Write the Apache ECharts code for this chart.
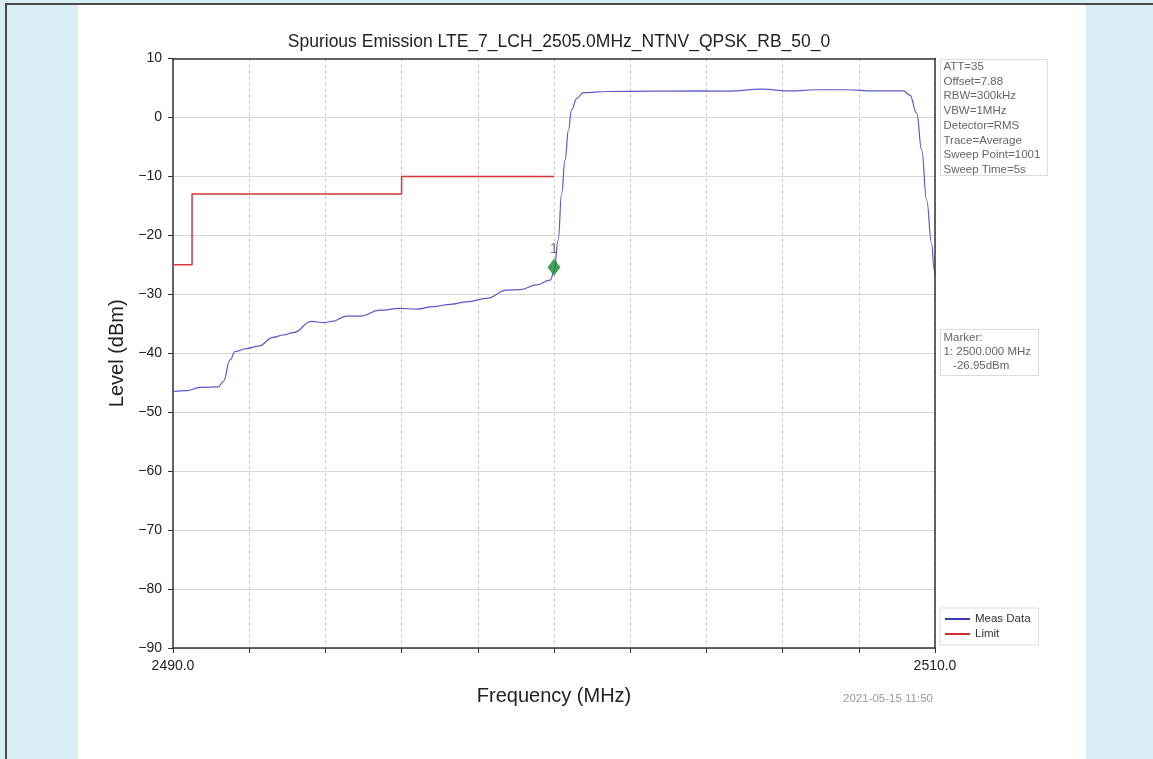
<!DOCTYPE html>
<html>
<head>
<meta charset="utf-8">
<title>Spurious Emission LTE_7_LCH_2505.0MHz</title>
<script src="https://cdn.jsdelivr.net/npm/echarts@6/dist/echarts.min.js"></script>
<style>
    html, body { margin: 0; padding: 0; width: 1153px; height: 759px; overflow: hidden; }
    #page { position: absolute; left: 0; top: 0; width: 1153px; height: 759px; background: #d9edf4; }
    #lineLeft { position: absolute; left: 5px; top: 3px; width: 2px; height: 756px; background: #4a4a4a; }
    #lineTop { position: absolute; left: 5px; top: 3px; width: 1148px; height: 2px; background: #4a4a4a; }
    #paper { position: absolute; left: 78px; top: 5px; width: 1008px; height: 754px; background: #fff; }
    #canvas { position: absolute; left: 0; top: 0; width: 1153px; height: 759px; }
</style>
</head>
<body>
<div id="page"></div>
<div id="paper"></div>
<div id="lineLeft"></div>
<div id="lineTop"></div>
<div id="canvas"></div>
<script type="text/javascript">
    // 数据
    var measFreq = [2490.0, 2490.36, 2490.71, 2491.19, 2491.32, 2491.5, 2491.63, 2491.93, 2492.24, 2492.63,
        2492.9, 2493.16, 2493.64, 2493.95, 2494.17, 2494.56, 2494.91, 2495.43, 2495.96, 2496.4,
        2496.83, 2497.27, 2497.71, 2498.23, 2498.76, 2499.11, 2499.55, 2499.9, 2500.0, 2500.11,
        2500.2, 2500.29, 2500.38, 2500.46, 2500.6, 2500.77, 2501.38, 2502.5, 2503.83, 2504.6,
        2505.45, 2506.2, 2506.9, 2507.68, 2508.4, 2509.17, 2509.34, 2509.52, 2509.65, 2509.78,
        2509.91, 2509.98, 2510.0];
    var measLevel = [-46.5, -46.35, -45.8, -45.7, -44.8, -41.1, -39.7, -39.2, -38.8, -37.3,
        -36.9, -36.5, -34.6, -34.8, -34.6, -33.7, -33.7, -32.7, -32.4, -32.5,
        -32.1, -31.7, -31.3, -30.7, -29.3, -29.2, -28.4, -27.6, -26.2, -20.8,
        -12.9, -7.2, -2.1, 1.3, 3.25, 4.2, 4.4, 4.45, 4.5, 4.45,
        4.8, 4.5, 4.7, 4.7, 4.5, 4.5, 3.8, 0.7, -5.5, -14,
        -21.3, -25.9, -26.5];
    var limitFreq = [2490, 2490.5, 2490.5, 2496, 2496, 2500];
    var limitLevel = [-25, -25, -13, -13, -10, -10];
    var markerFreq = [2500.0];
    var markerLevel = [-25.4];
    var markerName = ['1'];
    var xLabelValues = [2490, 2510];
    var infoLines = ['ATT=35', 'Offset=7.88', 'RBW=300kHz', 'VBW=1MHz', 'Detector=RMS',
        'Trace=Average', 'Sweep Point=1001', 'Sweep Time=5s'];
    var markerLines = ['Marker:', '1: 2500.000 MHz', '   -26.95dBm'];
    var titleText = 'Spurious Emission LTE_7_LCH_2505.0MHz_NTNV_QPSK_RB_50_0';
    var dateText = '2021-05-15 11:50';

    function pairs(xs, ys) {
        var out = [];
        for (var i = 0; i < xs.length; i++) out.push([xs[i], ys[i]]);
        return out;
    }

    var font = 'Liberation Sans, Arial, sans-serif';
    var spine = { show: true, onZero: false, lineStyle: { color: '#333', width: 1.5 } };
    var Dom = document.querySelector('#canvas');
    var myChart = echarts.init(Dom, null, { renderer: 'canvas' });
    var option = {
        backgroundColor: 'transparent',
        animation: false,
        title: {
            text: titleText,
            left: 554, top: 28,
            textAlign: 'center',
            textStyle: { fontFamily: font, fontSize: 17.5, fontWeight: 'normal', color: '#222' }
        },
        grid: {
            left: 173, top: 58.5, right: 218, bottom: 111,
            show: true, backgroundColor: '#fff', borderWidth: 0
        },
        legend: {
            left: 940, top: 608,
            orient: 'vertical',
            itemWidth: 25, itemHeight: 2, itemGap: 3,
            padding: [5, 8, 5, 5],
            borderColor: '#ddd', borderWidth: 1, backgroundColor: '#fff',
            textStyle: { fontFamily: font, fontSize: 11.5, color: '#333' },
            data: [
                { name: 'Meas Data', icon: 'rect' },
                { name: 'Limit', icon: 'rect' }
            ]
        },
        xAxis: [
            {
                type: 'value', min: 2490, max: 2510, interval: 2,
                name: 'Frequency (MHz)', nameLocation: 'middle', nameGap: 38,
                nameTextStyle: { fontFamily: font, fontSize: 20, color: '#222' },
                axisLine: spine,
                axisTick: { show: true, length: 5, lineStyle: { color: '#333' } },
                axisLabel: {
                    fontFamily: font, fontSize: 14, color: '#222', margin: 11, showMaxLabel: true, showMinLabel: true,
                    formatter: function (v) { return xLabelValues.indexOf(v) >= 0 ? v.toFixed(1) : ''; }
                },
                splitLine: { show: true, lineStyle: { color: '#c8c8c8', type: [3, 3], width: 1 } },
                z: 1
            },
            {
                type: 'value', min: 2490, max: 2510, position: 'top',
                axisLine: spine, axisTick: { show: false }, axisLabel: { show: false }, splitLine: { show: false },
                z: 5
            }
        ],
        yAxis: [
            {
                type: 'value', min: -90, max: 10, interval: 10,
                name: 'Level (dBm)', nameLocation: 'middle', nameGap: 46,
                nameTextStyle: { fontFamily: font, fontSize: 20, color: '#222' },
                axisLine: spine,
                axisTick: { show: true, length: 5, lineStyle: { color: '#333' } },
                axisLabel: {
                    fontFamily: font, fontSize: 14, color: '#222', margin: 11,
                    formatter: function (v) { return String(v).replace('-', '\u2212'); }
                },
                splitLine: { show: true, lineStyle: { color: '#d8d8d8', type: 'solid', width: 1 } },
                z: 1
            },
            {
                type: 'value', min: -90, max: 10, position: 'right',
                axisLine: spine, axisTick: { show: false }, axisLabel: { show: false }, splitLine: { show: false },
                z: 5
            }
        ],
        series: [
            {
                name: 'Meas Data', type: 'line',
                data: pairs(measFreq, measLevel),
                showSymbol: false, smooth: 0.45, smoothMonotone: 'x',
                color: '#3d3db8',
                lineStyle: { color: '#5a5acb', width: 1.2 },
                z: 3
            },
            {
                name: 'Limit', type: 'line',
                data: pairs(limitFreq, limitLevel),
                showSymbol: false,
                color: '#d32f2f',
                lineStyle: { color: '#d93636', width: 1.5 },
                z: 2
            },
            {
                name: 'Marker', type: 'scatter',
                data: pairs(markerFreq, markerLevel),
                symbol: 'diamond', symbolSize: [13, 17],
                itemStyle: { color: '#138a2a' },
                label: {
                    show: true, position: 'top', distance: 2,
                    formatter: function (p) { return markerName[p.dataIndex]; },
                    fontFamily: font, fontSize: 15, color: '#555'
                },
                z: 4
            }
        ],
        graphic: [
            {
                type: 'group', left: 940, top: 59,
                children: [
                    { type: 'rect', shape: { x: 0, y: 0, width: 107, height: 116 },
                      style: { fill: '#fff', stroke: '#dcdcdc', lineWidth: 1 } },
                    { type: 'text', x: 3, y: 0,
                      style: { text: infoLines.join('\n'), font: '11.5px ' + font, fill: '#666', lineHeight: 14.7 } }
                ]
            },
            {
                type: 'group', left: 940, top: 329,
                children: [
                    { type: 'rect', shape: { x: 0, y: 0, width: 98, height: 46 },
                      style: { fill: '#fff', stroke: '#dcdcdc', lineWidth: 1 } },
                    { type: 'text', x: 3, y: 1,
                      style: { text: markerLines.join('\n'), font: '11.5px ' + font, fill: '#666', lineHeight: 14 } }
                ]
            },
            {
                type: 'text', right: 1153 - 933, top: 693,
                style: { text: dateText, font: '11.5px ' + font, fill: '#9a9a9a' }
            }
        ]
    };
    myChart.setOption(option);
</script>
</body>
</html>
